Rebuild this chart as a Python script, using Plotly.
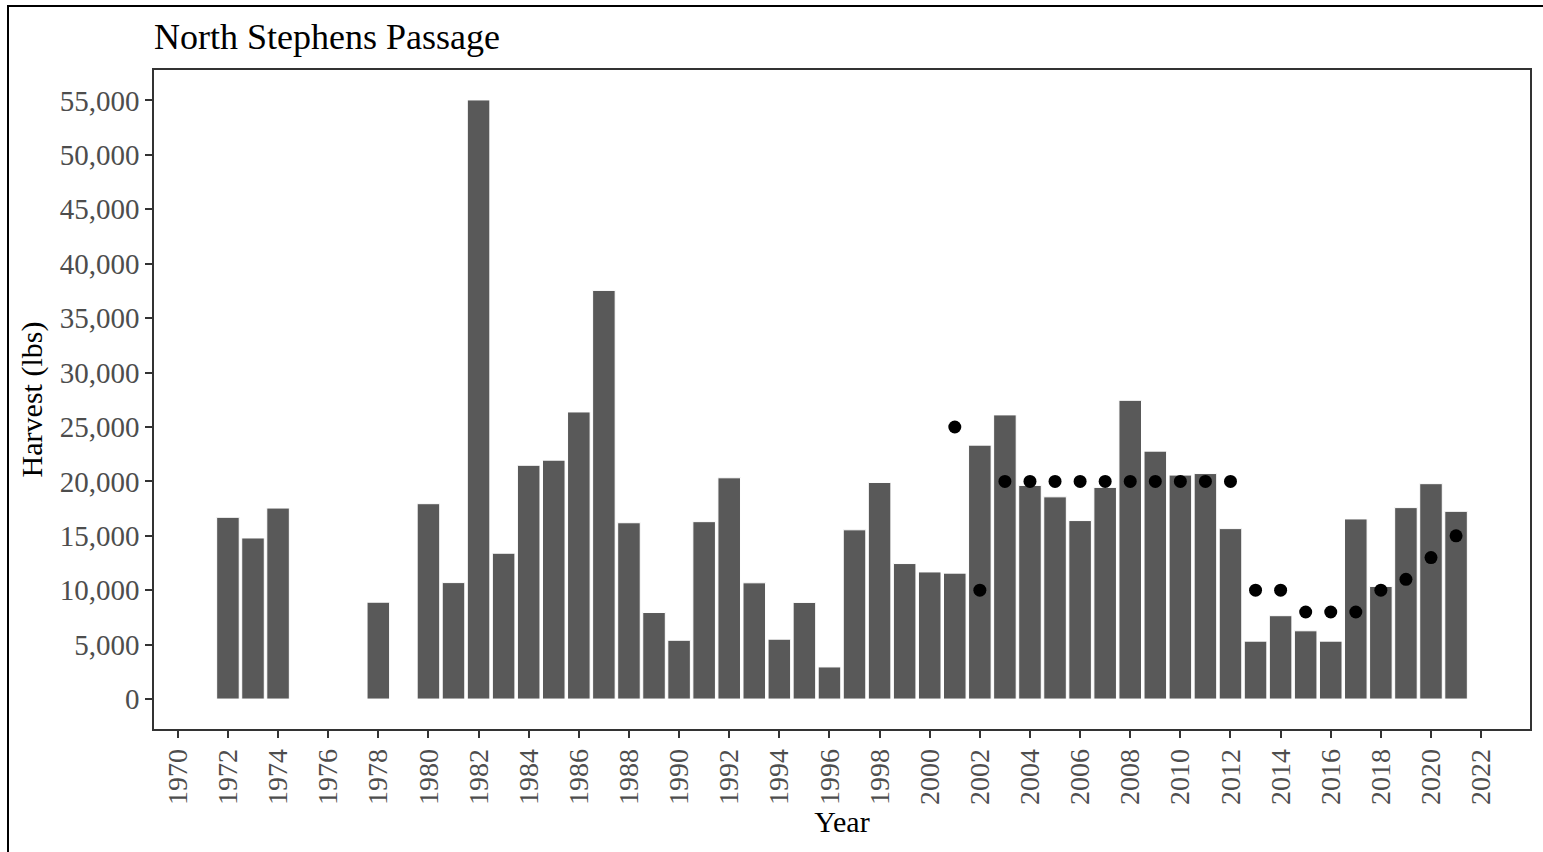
import plotly.graph_objects as go

# harvest by year (lbs)
years = [1972, 1973, 1974, 1978, 1980, 1981, 1982, 1983, 1984, 1985, 1986,
         1987, 1988, 1989, 1990, 1991, 1992, 1993, 1994, 1995, 1996, 1997,
         1998, 1999, 2000, 2001, 2002, 2003, 2004, 2005, 2006, 2007, 2008,
         2009, 2010, 2011, 2012, 2013, 2014, 2015, 2016, 2017, 2018, 2019,
         2020, 2021]
harvest = [16700, 14800, 17550, 8900, 17950, 10700, 55050, 13400, 21480, 21950,
           26380, 37550, 16200, 7950, 5400, 16300, 20330, 10680, 5500, 8880,
           2950, 15550, 19900, 12450, 11680, 11570, 23330, 26110, 19630, 18580,
           16400, 19450, 27450, 22780, 20580, 20720, 15660, 5320, 7660, 6270,
           5320, 16550, 10350, 17590, 19790, 17250]

# guideline harvest level points
ghl_years = list(range(2001, 2022))
ghl = [25000, 10000, 20000, 20000, 20000, 20000, 20000, 20000, 20000, 20000,
       20000, 20000, 10000, 10000, 8000, 8000, 8000, 10000, 11000, 13000, 15000]

FONT = "Liberation Serif, Times New Roman, serif"

fig = go.Figure()
fig.add_trace(go.Bar(
    x=years, y=harvest, width=0.9,
    marker=dict(color="#595959", line=dict(color="#FFFFFF", width=1)),
    showlegend=False
))
fig.add_trace(go.Scatter(
    x=ghl_years, y=ghl, mode="markers",
    marker=dict(color="black", size=13),
    showlegend=False
))

fig.update_xaxes(
    range=[1969.05, 2023.95],
    tickmode="array", tickvals=list(range(1970, 2023, 2)),
    tickangle=-90, ticks="outside", ticklen=7, tickwidth=2, tickcolor="#333333",
    tickfont=dict(family=FONT, size=28, color="#4D4D4D"),
    showgrid=False, zeroline=False,
    showline=True, mirror=True, linecolor="#333333", linewidth=1.5,
    title=dict(text="Year", font=dict(family=FONT, size=30, color="black"), standoff=6)
)
fig.update_yaxes(
    range=[-2752, 57802],
    tickmode="array", tickvals=list(range(0, 55001, 5000)), tickformat=",d",
    ticks="outside", ticklen=7, tickwidth=2, tickcolor="#333333",
    tickfont=dict(family=FONT, size=29, color="#4D4D4D"),
    showgrid=False, zeroline=False,
    showline=True, mirror=True, linecolor="#333333", linewidth=1.5,
    title=dict(text="Harvest (lbs)", font=dict(family=FONT, size=30, color="black"), standoff=8)
)

fig.update_layout(
    width=1543, height=852,
    margin=dict(l=154, r=13, t=70, b=123, autoexpand=False),
    paper_bgcolor="white", plot_bgcolor="white",
    font_family=FONT,
    title=dict(text="North Stephens Passage", x=154 / 1543, xanchor="left",
               y=1 - 36 / 852, yanchor="middle",
               font=dict(family=FONT, size=36, color="black")),
    # outer frame (left and top edges show in the picture)
    shapes=[dict(type="rect", xref="paper", yref="paper",
                 x0=-146 / 1376, x1=1420 / 1376, y0=-130 / 659, y1=723 / 659,
                 line=dict(color="black", width=2), layer="below")]
)

fig.write_html("out.html", config={"displayModeBar": False},
               post_script="document.body.style.margin='0';")
